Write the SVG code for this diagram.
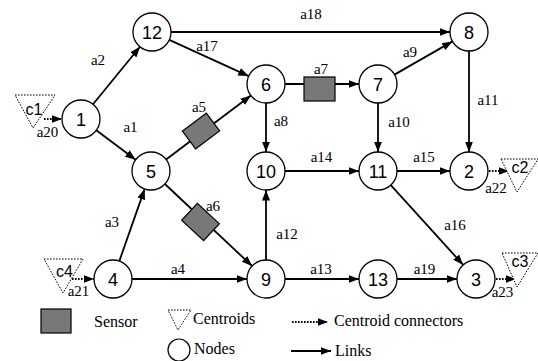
<svg xmlns="http://www.w3.org/2000/svg" width="538" height="361" viewBox="0 0 538 361">
  <style>
    .node circle { fill: #fff; stroke: #000; stroke-width: 1.3; }
    .num { font-family: "Liberation Sans", Arial, sans-serif; font-size: 18px; text-anchor: middle; fill: #000; }
    .lbl { font-family: "Liberation Serif", "Times New Roman", serif; font-size: 15px; text-anchor: middle; fill: #000; }
    .leg { font-family: "Liberation Serif", "Times New Roman", serif; font-size: 16px; fill: #000; }
    .link { stroke: #000; stroke-width: 1.8; fill: none; marker-end: url(#arrow); }
    .cc { stroke: #000; stroke-width: 1.8; stroke-dasharray: 1.6 1.4; fill: none; marker-end: url(#arrow); }
    .centroid { fill: #fff; stroke: #000; stroke-width: 1; stroke-dasharray: 1.6 1.4; }
    .cnum { font-family: "Liberation Sans", Arial, sans-serif; font-size: 16px; text-anchor: middle; fill: #000; }
    .sensor { fill: #787878; stroke: #000; stroke-width: 1.2; }
  </style>
  <defs>
    <marker id="arrow" markerUnits="userSpaceOnUse" markerWidth="11" markerHeight="9" refX="10.5" refY="4.5" orient="auto">
      <path d="M0,0.5 L10.5,4.5 L0,8.5 z" fill="#000"/>
    </marker>
  </defs>
  <rect width="538" height="361" fill="#fff"/>

  <!-- links -->
  <g id="connectors">
    <line class="link" x1="93" y1="104.3" x2="140" y2="46.7"/>
    <line class="link" x1="96.3" y1="130.3" x2="135.7" y2="159.7"/>
    <line class="link" x1="169.3" y1="39.9" x2="248.7" y2="76.1"/>
    <line class="link" x1="171" y1="32" x2="450" y2="32"/>
    <line class="link" x1="166.1" y1="159.5" x2="250.9" y2="95.5"/>
    <line class="link" x1="285" y1="84" x2="359" y2="84"/>
    <line class="link" x1="394.5" y1="74.6" x2="452.5" y2="41.4"/>
    <line class="link" x1="469" y1="51" x2="469" y2="152"/>
    <line class="link" x1="266" y1="103" x2="266" y2="152"/>
    <line class="link" x1="378" y1="103" x2="378" y2="152"/>
    <line class="link" x1="285" y1="171" x2="359" y2="171"/>
    <line class="link" x1="397" y1="171" x2="450" y2="171"/>
    <line class="link" x1="390.8" y1="185.1" x2="463.2" y2="264.9"/>
    <line class="link" x1="266" y1="260" x2="266" y2="190"/>
    <line class="link" x1="164.9" y1="184" x2="252.1" y2="266"/>
    <line class="link" x1="119.3" y1="261.1" x2="144.7" y2="188.9"/>
    <line class="link" x1="132" y1="279" x2="247" y2="279"/>
    <line class="link" x1="285" y1="279" x2="359" y2="279"/>
    <line class="link" x1="397" y1="279" x2="457" y2="279"/>
    <!-- centroid connectors -->
    <line class="cc" x1="44" y1="119" x2="62" y2="119"/>
    <line class="cc" x1="72" y1="279" x2="94" y2="279"/>
    <line class="cc" x1="489" y1="171" x2="509" y2="171"/>
    <line class="cc" x1="496" y1="279" x2="516" y2="279"/>
  </g>

  <!-- sensors -->
  <g id="sensor-a5"><rect class="sensor" x="-15" y="-11" width="30" height="22" transform="translate(201,131) rotate(-37)"/></g>
  <g id="sensor-a6"><rect class="sensor" x="-15" y="-11.5" width="30" height="23" transform="translate(200.5,222) rotate(43)"/></g>
  <g id="sensor-a7"><rect class="sensor" x="304" y="77" width="31" height="24"/></g>

  <!-- link labels -->
  <g id="link-labels">
    <text class="lbl" x="98" y="65">a2</text>
    <text class="lbl" x="130.5" y="132">a1</text>
    <text class="lbl" x="207" y="51">a17</text>
    <text class="lbl" x="311" y="19">a18</text>
    <text class="lbl" x="199" y="112">a5</text>
    <text class="lbl" x="321" y="74">a7</text>
    <text class="lbl" x="410" y="57">a9</text>
    <text class="lbl" x="488" y="105">a11</text>
    <text class="lbl" x="281" y="126">a8</text>
    <text class="lbl" x="399" y="127">a10</text>
    <text class="lbl" x="321.5" y="162">a14</text>
    <text class="lbl" x="424" y="162">a15</text>
    <text class="lbl" x="455" y="230">a16</text>
    <text class="lbl" x="287" y="239">a12</text>
    <text class="lbl" x="213" y="211">a6</text>
    <text class="lbl" x="112" y="227">a3</text>
    <text class="lbl" x="178" y="274">a4</text>
    <text class="lbl" x="321" y="274">a13</text>
    <text class="lbl" x="424.5" y="274">a19</text>
    <text class="lbl" x="47.5" y="137">a20</text>
    <text class="lbl" x="78.5" y="296">a21</text>
    <text class="lbl" x="496" y="193">a22</text>
    <text class="lbl" x="502.5" y="297">a23</text>
  </g>

  <!-- centroids -->
  <g id="c1"><polygon class="centroid" points="15,95 55,95 33,128"/><text class="cnum" x="34" y="115">c1</text></g>
  <g id="c4"><polygon class="centroid" points="44,259 83,259 63,293"/><text class="cnum" x="64.5" y="277">c4</text></g>
  <g id="c2"><polygon class="centroid" points="501,159 538,159 517,192"/><text class="cnum" x="520" y="173">c2</text></g>
  <g id="c3"><polygon class="centroid" points="502,253 538,253 517,287"/><text class="cnum" x="520" y="267">c3</text></g>

  <!-- nodes -->
  <g id="n1" class="node"><circle cx="81" cy="119" r="19"/><text class="num" x="81" y="125.5">1</text></g>
  <g id="n12" class="node"><circle cx="152" cy="32" r="19"/><text class="num" x="152" y="38.5">12</text></g>
  <g id="n6" class="node"><circle cx="266" cy="84" r="19"/><text class="num" x="266" y="90.5">6</text></g>
  <g id="n7" class="node"><circle cx="378" cy="84" r="19"/><text class="num" x="378" y="90.5">7</text></g>
  <g id="n8" class="node"><circle cx="469" cy="32" r="19"/><text class="num" x="469" y="38.5">8</text></g>
  <g id="n5" class="node"><circle cx="151" cy="171" r="19"/><text class="num" x="151" y="177.5">5</text></g>
  <g id="n10" class="node"><circle cx="266" cy="171" r="19"/><text class="num" x="266" y="177.5">10</text></g>
  <g id="n11" class="node"><circle cx="378" cy="171" r="19"/><text class="num" x="378" y="177.5">11</text></g>
  <g id="n2" class="node"><circle cx="469" cy="171" r="19"/><text class="num" x="469" y="177.5">2</text></g>
  <g id="n4" class="node"><circle cx="113" cy="279" r="19"/><text class="num" x="113" y="285.5">4</text></g>
  <g id="n9" class="node"><circle cx="266" cy="279" r="19"/><text class="num" x="266" y="285.5">9</text></g>
  <g id="n13" class="node"><circle cx="378" cy="279" r="19"/><text class="num" x="378" y="285.5">13</text></g>
  <g id="n3" class="node"><circle cx="476" cy="279" r="19"/><text class="num" x="476" y="285.5">3</text></g>

  <!-- legend -->
  <g id="legend">
    <rect class="sensor" x="41" y="309" width="30" height="24"/>
    <text class="leg" x="94" y="327">Sensor</text>
    <polygon class="centroid" points="168,310 191,310 178,330"/>
    <text class="leg" x="193" y="324">Centroids</text>
    <circle cx="179" cy="350" r="11" fill="#fff" stroke="#000" stroke-width="1.2"/>
    <text class="leg" x="194" y="354">Nodes</text>
    <line class="cc" x1="292" y1="322" x2="328" y2="322"/>
    <text class="leg" x="334" y="326">Centroid connectors</text>
    <line class="link" x1="291" y1="351" x2="331" y2="351"/>
    <text class="leg" x="335" y="356">Links</text>
  </g>
</svg>
